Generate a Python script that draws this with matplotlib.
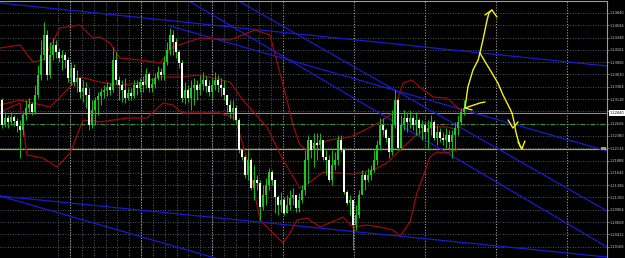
import matplotlib
matplotlib.use("Agg")
import matplotlib.pyplot as plt
from matplotlib.patches import Rectangle
import numpy as np

# ---- candles (EURUSD-like, prices) ----
first_open = 1.2310
close = [1.2260, 1.2274, 1.2266, 1.2276, 1.2268, 1.2258, 1.2250, 1.2280, 1.2294, 1.2302,
         1.2286, 1.2320, 1.2360, 1.2400, 1.2440, 1.2360, 1.2400, 1.2420, 1.2406, 1.2394,
         1.2400, 1.2390, 1.2354, 1.2374, 1.2346, 1.2354, 1.2326, 1.2334, 1.2320, 1.2260,
         1.2290, 1.2310, 1.2318, 1.2326, 1.2330, 1.2336, 1.2330, 1.2390, 1.2350, 1.2340,
         1.2330, 1.2314, 1.2324, 1.2318, 1.2340, 1.2334, 1.2346, 1.2340, 1.2362, 1.2334,
         1.2342, 1.2354, 1.2366, 1.2360, 1.2386, 1.2410, 1.2440, 1.2426, 1.2406, 1.2384,
         1.2314, 1.2330, 1.2314, 1.2334, 1.2340, 1.2330, 1.2342, 1.2350, 1.2338, 1.2326,
         1.2340, 1.2350, 1.2340, 1.2334, 1.2320, 1.2300, 1.2286, 1.2294, 1.2270, 1.2210,
         1.2196, 1.2160, 1.2190, 1.2134, 1.2150, 1.2144, 1.2096, 1.2120, 1.2140, 1.2166,
         1.2150, 1.2116, 1.2100, 1.2110, 1.2084, 1.2100, 1.2114, 1.2120, 1.2094, 1.2110,
         1.2130, 1.2190, 1.2230, 1.2210, 1.2224, 1.2220, 1.2230, 1.2196, 1.2190, 1.2150,
         1.2180, 1.2190, 1.2230, 1.2210, 1.2126, 1.2104, 1.2110, 1.2060, 1.2080, 1.2120,
         1.2160, 1.2150, 1.2160, 1.2170, 1.2190, 1.2220, 1.2260, 1.2250, 1.2234, 1.2206,
         1.2260, 1.2310, 1.2214, 1.2260, 1.2274, 1.2266, 1.2274, 1.2260, 1.2270, 1.2254,
         1.2260, 1.2246, 1.2254, 1.2266, 1.2234, 1.2246, 1.2234, 1.2230, 1.2240, 1.2226,
         1.2240, 1.2254, 1.2266, 1.2286, 1.2294]
high = [1.2314, 1.2286, 1.2280, 1.2286, 1.2280, 1.2274, 1.2270, 1.2286, 1.2310, 1.2314,
        1.2306, 1.2340, 1.2380, 1.2430, 1.2466, 1.2450, 1.2426, 1.2434, 1.2430, 1.2414,
        1.2410, 1.2406, 1.2396, 1.2386, 1.2382, 1.2370, 1.2354, 1.2350, 1.2346, 1.2334,
        1.2310, 1.2316, 1.2326, 1.2334, 1.2340, 1.2346, 1.2344, 1.2416, 1.2406, 1.2358,
        1.2350, 1.2354, 1.2334, 1.2334, 1.2350, 1.2350, 1.2354, 1.2358, 1.2374, 1.2366,
        1.2354, 1.2364, 1.2378, 1.2374, 1.2398, 1.2426, 1.2454, 1.2450, 1.2434, 1.2410,
        1.2390, 1.2346, 1.2340, 1.2350, 1.2354, 1.2350, 1.2360, 1.2366, 1.2358, 1.2350,
        1.2354, 1.2366, 1.2360, 1.2354, 1.2350, 1.2314, 1.2310, 1.2310, 1.2300, 1.2274,
        1.2214, 1.2200, 1.2210, 1.2194, 1.2180, 1.2160, 1.2150, 1.2140, 1.2154, 1.2174,
        1.2170, 1.2140, 1.2120, 1.2126, 1.2116, 1.2120, 1.2130, 1.2134, 1.2120, 1.2124,
        1.2140, 1.2210, 1.2240, 1.2230, 1.2244, 1.2244, 1.2244, 1.2230, 1.2210, 1.2200,
        1.2210, 1.2206, 1.2240, 1.2240, 1.2214, 1.2130, 1.2120, 1.2110, 1.2100, 1.2130,
        1.2170, 1.2166, 1.2174, 1.2180, 1.2210, 1.2230, 1.2274, 1.2274, 1.2254, 1.2234,
        1.2290, 1.2330, 1.2314, 1.2280, 1.2290, 1.2286, 1.2290, 1.2280, 1.2286, 1.2274,
        1.2270, 1.2266, 1.2270, 1.2280, 1.2270, 1.2260, 1.2254, 1.2246, 1.2254, 1.2250,
        1.2250, 1.2266, 1.2280, 1.2294, 1.2310]
low = [1.2254, 1.2256, 1.2254, 1.2260, 1.2258, 1.2246, 1.2194, 1.2240, 1.2270, 1.2286,
       1.2280, 1.2282, 1.2314, 1.2350, 1.2390, 1.2350, 1.2354, 1.2390, 1.2394, 1.2386,
       1.2370, 1.2374, 1.2346, 1.2340, 1.2338, 1.2326, 1.2314, 1.2306, 1.2294, 1.2250,
       1.2254, 1.2260, 1.2280, 1.2300, 1.2314, 1.2318, 1.2320, 1.2326, 1.2342, 1.2310,
       1.2306, 1.2304, 1.2310, 1.2310, 1.2314, 1.2320, 1.2326, 1.2326, 1.2334, 1.2326,
       1.2326, 1.2334, 1.2350, 1.2350, 1.2350, 1.2380, 1.2400, 1.2400, 1.2394, 1.2374,
       1.2306, 1.2302, 1.2306, 1.2290, 1.2300, 1.2310, 1.2320, 1.2330, 1.2326, 1.2318,
       1.2314, 1.2330, 1.2326, 1.2318, 1.2310, 1.2286, 1.2274, 1.2270, 1.2262, 1.2204,
       1.2190, 1.2154, 1.2150, 1.2130, 1.2110, 1.2130, 1.2070, 1.2090, 1.2100, 1.2130,
       1.2140, 1.2084, 1.2080, 1.2086, 1.2080, 1.2084, 1.2090, 1.2100, 1.2086, 1.2086,
       1.2104, 1.2120, 1.2144, 1.2194, 1.2176, 1.2190, 1.2210, 1.2190, 1.2160, 1.2146,
       1.2140, 1.2170, 1.2180, 1.2206, 1.2122, 1.2100, 1.2080, 1.2010, 1.2050, 1.2074,
       1.2126, 1.2130, 1.2146, 1.2150, 1.2166, 1.2180, 1.2210, 1.2240, 1.2226, 1.2194,
       1.2200, 1.2254, 1.2210, 1.2210, 1.2250, 1.2246, 1.2254, 1.2250, 1.2240, 1.2240,
       1.2230, 1.2234, 1.2210, 1.2240, 1.2230, 1.2220, 1.2226, 1.2220, 1.2214, 1.2210,
       1.2194, 1.2210, 1.2240, 1.2260, 1.2280]

# ---- Bollinger bands (bar index, price) ----
upper_i = [-0.67, 6, 10.3, 13.7, 19.3, 26, 30.3, 32.7, 36, 39.3, 46, 52.7, 57, 66, 76, 84.3,
           89.3, 95, 97, 99.3, 101.7, 104.3, 109.3, 116, 121, 126, 130.3, 133.7, 136.7,
           139.3, 143.7, 148.3, 152.7, 154.3]
upper_p = [1.2414, 1.2420, 1.2386, 1.2390, 1.2454, 1.2460, 1.2434, 1.2436, 1.2424, 1.2394,
           1.2390, 1.2384, 1.2416, 1.2434, 1.2430, 1.2450, 1.2440, 1.2310, 1.2260, 1.2220,
           1.2210, 1.2220, 1.2230, 1.2236, 1.2250, 1.2266, 1.2284, 1.2344, 1.2350, 1.2336,
           1.2316, 1.2314, 1.2290, 1.2286]
mid_i = [-0.67, 6, 16, 26, 32.7, 39.3, 46, 52.7, 59.3, 66, 76, 80.3, 88.3, 93.7, 99.3,
         102.7, 107, 117, 123.7, 128.3, 133.7, 139.3, 143.7, 148.3, 152.7]
mid_p = [1.2300, 1.2310, 1.2296, 1.2356, 1.2346, 1.2340, 1.2344, 1.2356, 1.2356, 1.2360,
         1.2346, 1.2310, 1.2256, 1.2190, 1.2134, 1.2146, 1.2166, 1.2162, 1.2170, 1.2184,
         1.2216, 1.2246, 1.2256, 1.2256, 1.2250]
lower_i = [-0.67, 6, 6.7, 8.3, 13.7, 18.3, 22.7, 27, 32.7, 41.7, 48.3, 53.7, 57, 60.3, 66,
           72.7, 77.7, 82.7, 86, 91.7, 93.7, 96, 98.3, 101.7, 106, 113.7, 117, 121.7, 126,
           130.3, 132.7, 136, 138.3, 140.3, 142.7, 145, 148.3, 151.7]
lower_p = [1.2286, 1.2304, 1.2276, 1.2200, 1.2194, 1.2176, 1.2204, 1.2270, 1.2266, 1.2274,
           1.2274, 1.2304, 1.2300, 1.2284, 1.2284, 1.2284, 1.2274, 1.2170, 1.2070, 1.2036,
           1.2024, 1.2044, 1.2070, 1.2074, 1.2056, 1.2076, 1.2056, 1.2060, 1.2056, 1.2050,
           1.2038, 1.2066, 1.2124, 1.2156, 1.2196, 1.2206, 1.2204, 1.2210]

# ---- trend lines (start/end bar index and price) ----
trend_lines = [
    ((-0.67, 1.2504), (201.67, 1.2378)),
    ((-0.67, 1.2118), (201.67, 1.1996)),
    ((-0.67, 1.2118), (71.0, 1.1994)),
    ((61.7, 1.2510), (201.67, 1.2016)),
    ((78.3, 1.2510), (201.67, 1.2088)),
    ((56.0, 1.2458), (201.67, 1.2208)),
]

# ---- horizontal levels ----
bid_level = 1.2284
dash_level = 1.2262
olive_level = 1.2212

# ---- hand drawn arrows ----
up_i = [154.3, 154.7, 155.3, 157, 158.7, 159.3, 160.3, 161, 161.7, 162.3, 163.3]
up_p = [1.2294, 1.2310, 1.2336, 1.2370, 1.2390, 1.2404, 1.2430, 1.2450, 1.2470, 1.2484, 1.2490]
up_head_i = [161, 163.3, 165]
up_head_p = [1.2480, 1.2490, 1.2476]
down_i = [159.3, 161.7, 163.3, 165.3, 167, 168.7, 170, 170.7, 171.3, 172, 172.7, 173.3]
down_p = [1.2404, 1.2380, 1.2364, 1.2344, 1.2320, 1.2300, 1.2284, 1.2266, 1.2246, 1.2230, 1.2218, 1.2212]
hook1_i = [168.7, 170.3, 172]
hook1_p = [1.2270, 1.2254, 1.2266]
hook2_i = [172, 173.3, 174.3]
hook2_p = [1.2226, 1.2212, 1.2228]
left_i = [161, 159.3, 154.3, 156.7]
left_p = [1.2306, 1.2304, 1.2294, 1.2290]

tick_prices = [1.24840, 1.24594, 1.24348, 1.24102, 1.23856, 1.23610, 1.23364, 1.23118,
               1.22872, 1.22626, 1.22380, 1.22134, 1.21888, 1.21642, 1.21396, 1.21150,
               1.20904, 1.20658, 1.20412, 1.20166]

W, H = 625, 258
fig = plt.figure(figsize=(W / 100, H / 100), dpi=100, facecolor="black")
ax = fig.add_axes([0, 0, 607 / W, 257 / H], facecolor="black")
ax.set_xlim(-0.67, 201.67)
ax.set_ylim(1.1994, 1.2508)

# grid
grid_col = "#6a7480"
for k in range(-1, 18):
    xg = (68 + 71 / 6 * k) / 3
    ax.axvline(xg, color=grid_col, lw=0.6, ls=(0, (1, 2)), zorder=0)
for k in range(0, 9):
    xg = (68 + 71 * k) / 3
    ax.axvline(xg, color="#9aa3ad", lw=0.8, ls=(0, (1, 1.5)), zorder=0)
for t in tick_prices:
    ax.axhline(t, color=grid_col, lw=0.6, ls=(0, (1, 2)), zorder=0)

# levels
ax.axhline(bid_level, color="#8c8c8c", lw=0.8, zorder=1)
ax.axhline(dash_level, color="#2e9e2e", lw=0.8, ls=(0, (4, 2, 1, 2)), zorder=1)
ax.axhline(olive_level, color="#a8a838", lw=0.9, zorder=1)

# trend lines
for (x0, y0), (x1, y1) in trend_lines:
    ax.plot([x0, x1], [y0, y1], color="#1a1ad0", lw=0.9, zorder=2)

# bands
for bi, bp in [(upper_i, upper_p), (mid_i, mid_p), (lower_i, lower_p)]:
    ax.plot(bi, bp, color="#9a0a0a", lw=0.9, zorder=2)

# candles
opens = [first_open] + close[:-1]
idx = np.arange(len(close))
ax.vlines(idx, low, high, color="#18b418", lw=0.75, zorder=3)
for i, (o, c) in enumerate(zip(opens, close)):
    bottom = min(o, c)
    height = max(abs(c - o), 0.00012)
    face = "#1ec81e" if c >= o else "#f4fff4"
    ax.add_patch(Rectangle((i - 0.35, bottom), 0.7, height, facecolor=face,
                           edgecolor="none", zorder=4))

# yellow drawings
for xs, ys in [(up_i, up_p), (up_head_i, up_head_p), (down_i, down_p),
               (hook1_i, hook1_p), (hook2_i, hook2_p), (left_i, left_p)]:
    ax.plot(xs, ys, color="#f2f21a", lw=1.0, zorder=5, solid_capstyle="round")

# price axis on the right (the bid tag covers the tick next to it)
labels = ["" if abs(t - bid_level) < 0.0008 else f"{t:.5f}" for t in tick_prices]
ax.yaxis.tick_right()
ax.set_yticks(tick_prices)
ax.set_yticklabels(labels, fontsize=2.5, color="#d0d0d0")
ax.tick_params(axis="y", length=1.5, width=0.5, color="#a0a0a0", pad=0.6)
ax.set_xticks([])
for s in ["left", "bottom"]:
    ax.spines[s].set_visible(False)
ax.spines["right"].set_color("#9a9a9a")
ax.spines["top"].set_color("#9a9a9a")
ax.spines["right"].set_linewidth(0.8)
ax.spines["top"].set_linewidth(0.8)

# highlighted price tags
ax.text(1.004, bid_level, f"{bid_level:.5f}", transform=ax.get_yaxis_transform(),
        fontsize=2.5, color="black", va="center", ha="left",
        bbox=dict(boxstyle="square,pad=0.2", facecolor="white", edgecolor="none"))
ax.add_patch(Rectangle((0.99, olive_level - 0.0003), 0.008, 0.0006,
                       transform=ax.get_yaxis_transform(), facecolor="#a8a838",
                       edgecolor="none", clip_on=False, zorder=6))

fig.savefig("out.png", dpi=100, facecolor="black")
